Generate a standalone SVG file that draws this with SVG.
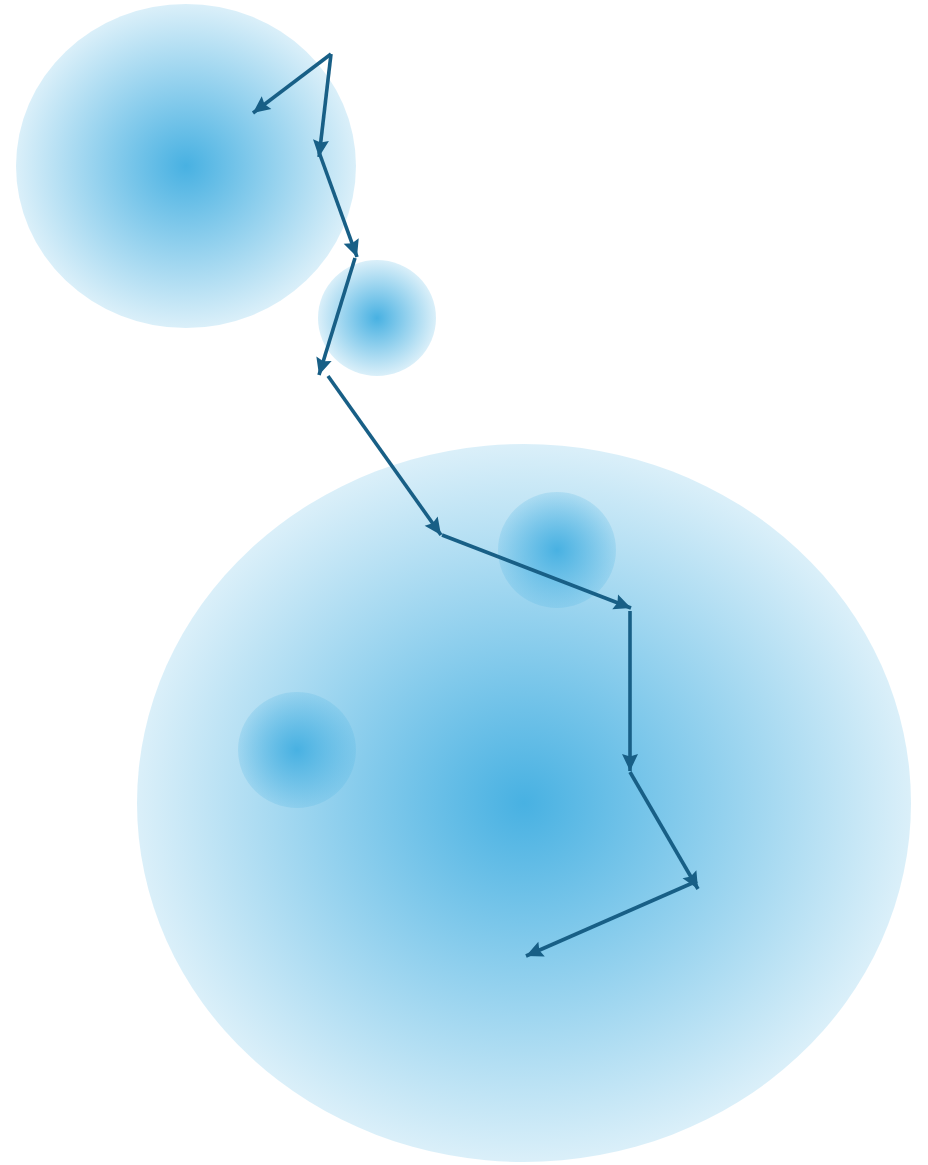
<svg xmlns="http://www.w3.org/2000/svg" width="928" height="1165" viewBox="0 0 928 1165">
<defs>
<radialGradient id="g" cx="50%" cy="50%" r="50%">
<stop offset="0" stop-color="#48b1e2" stop-opacity="1"/>
<stop offset="1" stop-color="#48b1e2" stop-opacity="0.2"/>
</radialGradient>
<marker id="ah" markerWidth="20" markerHeight="18" refX="17" refY="8" orient="auto" markerUnits="userSpaceOnUse" overflow="visible">
<path d="M0,0 L17,8 L0,16 L2.5,8 Z" fill="#185f86"/>
</marker>
</defs>
<style>
.n{fill:url(#g)}
.c line{stroke:#185f86;stroke-width:3.6;marker-end:url(#ah)}
</style>
<rect width="928" height="1165" fill="#fff"/>
<g id="n1"><ellipse class="n" cx="186" cy="166" rx="170" ry="162"/></g>
<g id="n2"><ellipse class="n" cx="377" cy="318" rx="59" ry="58"/></g>
<g id="n3"><ellipse class="n" cx="524" cy="803" rx="387" ry="359"/></g>
<g id="n4"><ellipse class="n" cx="557" cy="550" rx="59" ry="58"/></g>
<g id="n5"><ellipse class="n" cx="297" cy="750" rx="59" ry="58"/></g>
<g class="c" id="connectors">
<line x1="331" y1="54" x2="253" y2="113"/>
<line x1="331" y1="54" x2="319" y2="157"/>
<line x1="319" y1="152" x2="357" y2="257"/>
<line x1="355" y1="258" x2="319" y2="375"/>
<line x1="328" y1="376" x2="441" y2="535"/>
<line x1="442" y1="535" x2="631" y2="608"/>
<line x1="630" y1="611" x2="630" y2="771"/>
<line x1="630" y1="772" x2="698" y2="889"/>
<line x1="697" y1="881" x2="526" y2="956"/>
</g>
</svg>
